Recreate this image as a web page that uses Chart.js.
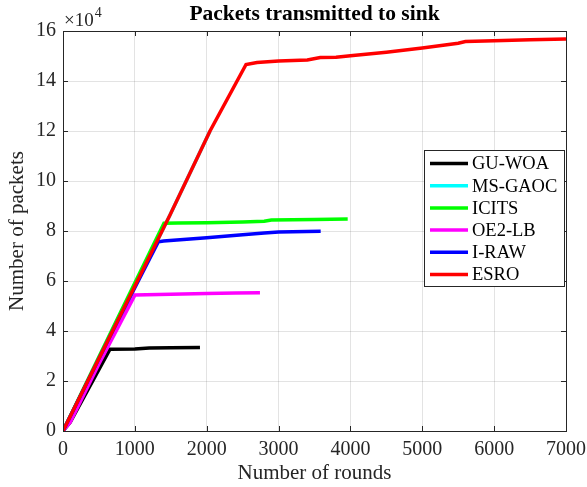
<!DOCTYPE html>
<html>
<head>
<meta charset="utf-8">
<script src="https://cdn.jsdelivr.net/npm/chart.js@4.4.1/dist/chart.umd.min.js"></script>
<style>
  html, body { margin: 0; padding: 0; background: #fff; }
  canvas { display: block; }
</style>
</head>
<body>
<canvas id="myChart" width="587" height="487"></canvas>
<script>
// packets are in real units, axis shows them as x10^4
const seriesNames = ["GU-WOA", "MS-GAOC", "ICITS", "OE2-LB", "I-RAW", "ESRO"]
const seriesColors = ["#000000", "#00ffff", "#00ff00", "#ff00ff", "#0000ff", "#ff0000"]

const guwoaRounds = [0, 100, 300, 654, 1000, 1200, 1500, 1906]
const guwoaPackets = [0, 3500, 14000, 32700, 32800, 33200, 33300, 33400]

const msgaocRounds = [0, 835, 1489, 2046]
const msgaocPackets = [0, 48400, 86400, 120000]

const icitsRounds = [0, 816, 1405, 1600, 2000, 2500, 2800, 2900, 3500, 3962]
const icitsPackets = [0, 48400, 83100, 83200, 83300, 83600, 83900, 84400, 84600, 84800]

const oe2lbRounds = [0, 100, 500, 1002, 1500, 2000, 2400, 2741]
const oe2lbPackets = [0, 3500, 26800, 54400, 54700, 55000, 55200, 55300]

const irawRounds = [0, 700, 1327, 1400, 2000, 2500, 2800, 3000, 3586]
const irawPackets = [0, 40500, 75700, 76000, 77300, 78500, 79200, 79600, 79900]

const esroRounds = [0, 835, 1489, 2046, 2547, 2700, 3000, 3400, 3580, 3800, 4000, 4500, 5000, 5500, 5600, 6000, 6500, 7000]
const esroPackets = [0, 48400, 86400, 120000, 146600, 147400, 148000, 148400, 149400, 149500, 150100, 151500, 153200, 155100, 155800, 156100, 156500, 156800]

const xTicks = [0, 1000, 2000, 3000, 4000, 5000, 6000, 7000]
const yTicks = [0, 20000, 40000, 60000, 80000, 100000, 120000, 140000, 160000]

const allRounds = [guwoaRounds, msgaocRounds, icitsRounds, oe2lbRounds, irawRounds, esroRounds]
const allPackets = [guwoaPackets, msgaocPackets, icitsPackets, oe2lbPackets, irawPackets, esroPackets]

const SERIF = "'Liberation Serif', 'Times New Roman', serif"
const TXT = "#262626"

function toPoints(xs, ys) {
  return xs.map((x, i) => ({x: x, y: ys[i]}))
}

const datasets = seriesNames.map((name, i) => {
  return {
    label: name,
    data: toPoints(allRounds[i], allPackets[i]),
    borderColor: seriesColors[i],
    backgroundColor: seriesColors[i],
    borderWidth: 3.5,
    pointRadius: 0,
    tension: 0,
    fill: false,
    order: seriesNames.length - 1 - i  // last series drawn on top like matlab
  }
})

// box, inward ticks, exponent and legend box
const matlabAxes = {
  id: 'matlabAxes',
  afterDraw(chart) {
    const ctx = chart.ctx
    const a = chart.chartArea
    const xs = chart.scales.x
    const ys = chart.scales.y
    ctx.save()
    ctx.strokeStyle = TXT
    ctx.lineWidth = 1
    ctx.beginPath()
    xTicks.forEach(t => {
      const px = Math.round(xs.getPixelForValue(t)) + 0.5
      ctx.moveTo(px, a.bottom); ctx.lineTo(px, a.bottom - 5)
      ctx.moveTo(px, a.top); ctx.lineTo(px, a.top + 5)
    })
    yTicks.forEach(t => {
      const py = Math.round(ys.getPixelForValue(t)) + 0.5
      ctx.moveTo(a.left, py); ctx.lineTo(a.left + 5, py)
      ctx.moveTo(a.right, py); ctx.lineTo(a.right - 5, py)
    })
    ctx.stroke()
    ctx.strokeRect(Math.round(a.left) + 0.5, Math.round(a.top) + 0.5, Math.round(a.right - a.left), Math.round(a.bottom - a.top))

    // x10^4
    ctx.fillStyle = TXT
    ctx.textBaseline = 'alphabetic'
    ctx.textAlign = 'left'
    ctx.font = "19px " + SERIF
    ctx.fillText("\u00d710", a.left + 1, a.top - 5)
    const w = ctx.measureText("\u00d710").width
    ctx.font = "14px " + SERIF
    ctx.fillText("4", a.left + 2 + w, a.top - 14)

    // legend
    const lx = 424.5, ly = 150.5, lw = 140, lh = 136
    ctx.fillStyle = "#fff"
    ctx.fillRect(lx, ly, lw, lh)
    ctx.strokeStyle = TXT
    ctx.strokeRect(lx, ly, lw, lh)
    ctx.font = "18.5px " + SERIF
    ctx.textBaseline = 'middle'
    chart.data.datasets.forEach((ds, i) => {
      const y = 163.5 + i * 22.2
      ctx.strokeStyle = ds.borderColor
      ctx.lineWidth = 3.5
      ctx.beginPath()
      ctx.moveTo(430, y); ctx.lineTo(468, y)
      ctx.stroke()
      ctx.fillStyle = "#000"
      ctx.fillText(ds.label, 472, y + 1)
    })
    ctx.restore()
  }
}

const ctx = document.getElementById('myChart').getContext('2d')
const chart = new Chart(ctx, {
  type: 'line',
  data: { datasets: datasets },
  options: {
    responsive: false,
    animation: false,
    devicePixelRatio: 1,
    layout: { padding: { left: 0, right: 21, top: 0, bottom: 0 } },
    plugins: {
      legend: { display: false },
      tooltip: { enabled: false },
      title: {
        display: true,
        text: 'Packets transmitted to sink',
        fullSize: false,
        color: '#000',
        font: { family: SERIF, size: 21.5, weight: 'bold', lineHeight: 1.1 },
        padding: { top: 3, bottom: 4.35 }
      }
    },
    scales: {
      x: {
        type: 'linear',
        min: 0,
        max: 7000,
        afterFit: (scale) => {
          scale.height = 56
          scale.paddingLeft = 0
          scale.paddingRight = 0
        },
        afterBuildTicks: (scale) => { scale.ticks = xTicks.map(v => ({value: v})) },
        ticks: {
          color: TXT,
          font: { family: SERIF, size: 20 },
          padding: 7,
          maxRotation: 0,
          callback: (v) => String(v)
        },
        grid: { color: 'rgba(38,38,38,0.13)', drawTicks: false },
        border: { display: false },
        title: {
          display: true,
          text: 'Number of rounds',
          color: TXT,
          font: { family: SERIF, size: 21, lineHeight: 1.1 },
          padding: { top: 0, bottom: 2 }
        }
      },
      y: {
        type: 'linear',
        min: 0,
        max: 160000,
        afterFit: (scale) => {
          scale.width = 63
          scale.paddingTop = 0
          scale.paddingBottom = 0
        },
        afterBuildTicks: (scale) => { scale.ticks = yTicks.map(v => ({value: v})) },
        ticks: {
          color: TXT,
          font: { family: SERIF, size: 20 },
          padding: 7,
          callback: (v) => String(v / 10000)
        },
        grid: { color: 'rgba(38,38,38,0.13)', drawTicks: false },
        border: { display: false },
        title: {
          display: true,
          text: 'Number of packets',
          color: TXT,
          font: { family: SERIF, size: 21, lineHeight: 1.1 },
          padding: { top: 6, bottom: 0 }
        }
      }
    }
  },
  plugins: [matlabAxes]
})
</script>
</body>
</html>
